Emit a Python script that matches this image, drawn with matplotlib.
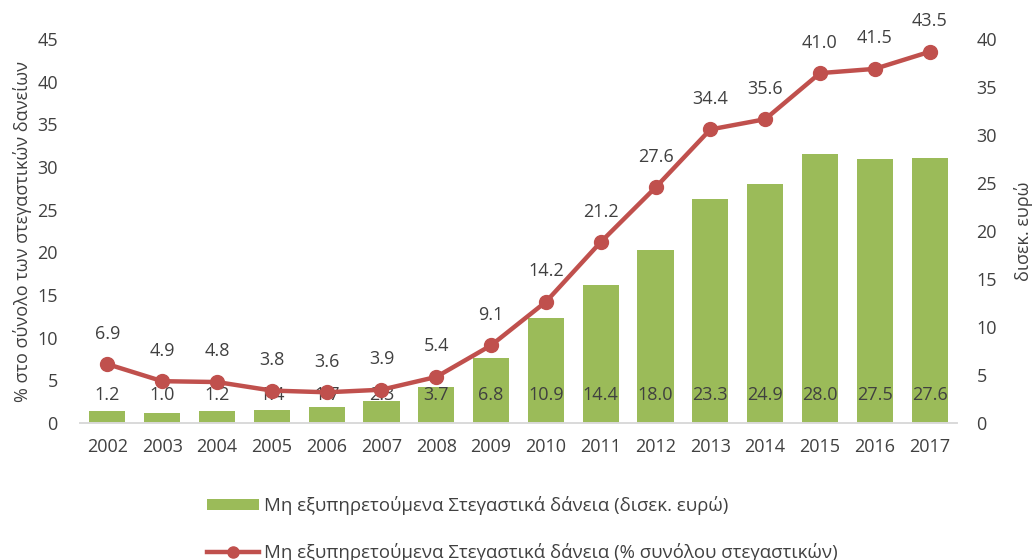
import matplotlib
matplotlib.use("Agg")
import matplotlib.pyplot as plt
from matplotlib.patches import Patch
from matplotlib.lines import Line2D

plt.rcParams['font.family'] = ['Open Sans', 'DejaVu Sans']

years = ["2002", "2003", "2004", "2005", "2006", "2007", "2008", "2009",
         "2010", "2011", "2012", "2013", "2014", "2015", "2016", "2017"]
npl_bn = [1.2, 1.0, 1.2, 1.4, 1.7, 2.3, 3.7, 6.8, 10.9, 14.4, 18.0, 23.3, 24.9, 28.0, 27.5, 27.6]
npl_pct = [6.9, 4.9, 4.8, 3.8, 3.6, 3.9, 5.4, 9.1, 14.2, 21.2, 27.6, 34.4, 35.6, 41.0, 41.5, 43.5]

bar_label = "Μη εξυπηρετούμενα Στεγαστικά δάνεια (δισεκ. ευρώ)"
line_label = "Μη εξυπηρετούμενα Στεγαστικά δάνεια (% συνόλου στεγαστικών)"
left_ylabel = "% στο σύνολο των στεγαστικών δανείων"
right_ylabel = "δισεκ. ευρώ"

GREEN = "#9BBB59"
RED = "#C0504D"
TXT = "#404040"
FS = 13
LFS = 13.4

fig = plt.figure(figsize=(10.32, 5.6), dpi=100)
ax = fig.add_axes([80/1032, 137/560, 877/1032, 384/560])
ax2 = ax.twinx()

x = list(range(len(years)))
ax2.bar(x, npl_bn, width=0.66, color=GREEN, zorder=1)
ax.set_zorder(ax2.get_zorder() + 1)
ax.patch.set_visible(False)
ax.plot(x, npl_pct, color=RED, lw=3.2, marker='o', ms=10, zorder=3)

ax.set_xlim(-0.5, len(years) - 0.5)
ax.set_ylim(0, 45)
ax2.set_ylim(0, 40)
ax.set_yticks(range(0, 46, 5))
ax2.set_yticks(range(0, 41, 5))
ax.set_xticks(x)
ax.set_xticklabels(years)

for a in (ax, ax2):
    for s in ("top", "left", "right"):
        a.spines[s].set_visible(False)
    a.spines["bottom"].set_color("#D9D9D9")
    a.spines["bottom"].set_linewidth(1.2)
    a.tick_params(length=0, labelsize=FS, colors=TXT)
ax.tick_params(axis='x', pad=11)
ax.tick_params(axis='y', pad=16)
ax2.tick_params(axis='y', pad=14)

ax.set_ylabel(left_ylabel, fontsize=FS, color=TXT, labelpad=4)
ax2.set_ylabel(right_ylabel, fontsize=FS, color=TXT, rotation=90, labelpad=12)

for i, v in enumerate(npl_pct):
    ax.annotate(f"{v:.1f}", xy=(i, v), xytext=(0, 22), textcoords='offset points',
                ha='center', va='center', fontsize=FS, color=TXT, zorder=4)
for i, v in enumerate(npl_bn):
    ax.annotate(f"{v:.1f}", xy=(i, 0), xytext=(0, 20), textcoords='offset points',
                ha='center', va='center', fontsize=FS, color=TXT, zorder=2)

handles = [Patch(facecolor=GREEN, edgecolor='none'),
           Line2D([], [], color=RED, lw=3.2, marker='o', ms=8)]
fig.legend(handles, [bar_label, line_label], loc='upper left',
           bbox_to_anchor=(198/1032, 1 - 487/560), frameon=False, fontsize=LFS,
           labelcolor=TXT, handlelength=2.8, handleheight=0.54, handletextpad=0.27,
           labelspacing=1.47, borderpad=0)

fig.savefig("out.png", dpi=100)
